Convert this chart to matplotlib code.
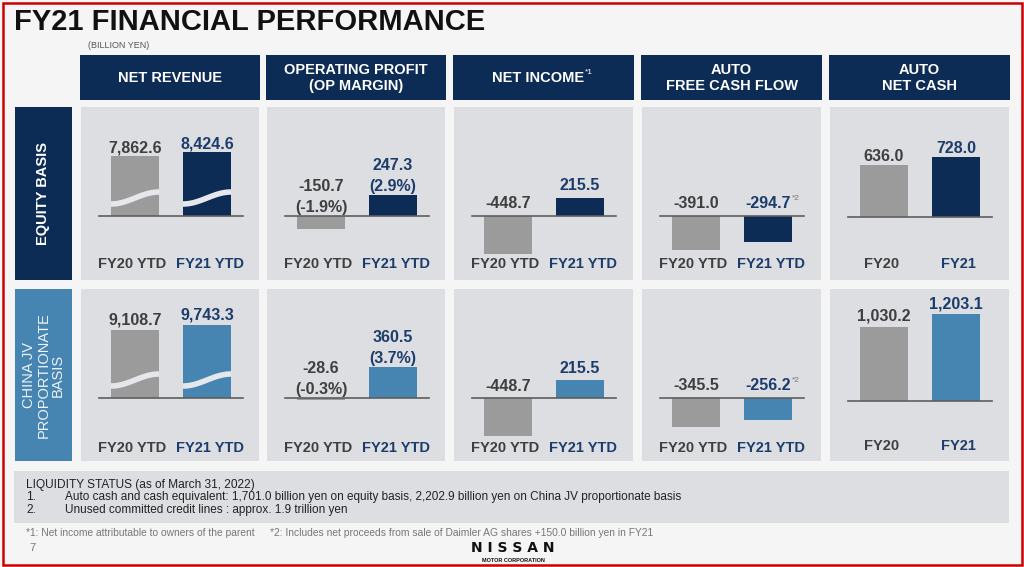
import matplotlib
matplotlib.use("Agg")
import matplotlib.pyplot as plt
from matplotlib.patches import Rectangle
import matplotlib.transforms as mtransforms
import numpy as np

plt.rcParams['font.family'] = ['Liberation Sans', 'DejaVu Sans']

W, H = 1024, 567

# ---------------- data ----------------
title = "FY21 FINANCIAL PERFORMANCE"
unit_note = "(BILLION YEN)"
headers = ["NET REVENUE", "OPERATING PROFIT\n(OP MARGIN)", "NET INCOME",
           "AUTO\nFREE CASH FLOW", "AUTO\nNET CASH"]
row_labels = ["EQUITY BASIS", "CHINA JV\nPROPORTIONATE\nBASIS"]
periods_ytd = ["FY20 YTD", "FY21 YTD"]
periods_fy = ["FY20", "FY21"]

equity_net_revenue = [7862.6, 8424.6]
equity_op_profit = [-150.7, 247.3]
equity_op_margin = [-1.9, 2.9]
equity_net_income = [-448.7, 215.5]
equity_fcf = [-391.0, -294.7]
equity_net_cash = [636.0, 728.0]

china_net_revenue = [9108.7, 9743.3]
china_op_profit = [-28.6, 360.5]
china_op_margin = [-0.3, 3.7]
china_net_income = [-448.7, 215.5]
china_fcf = [-345.5, -256.2]
china_net_cash = [1030.2, 1203.1]

liquidity_title = "LIQUIDITY STATUS (as of March 31, 2022)"
liquidity_items = ["Auto cash and cash equivalent: 1,701.0 billion yen on equity basis, 2,202.9 billion yen on China JV proportionate basis",
                   "Unused committed credit lines : approx. 1.9 trillion yen"]
footnote1 = "*1: Net income attributable to owners of the parent"
footnote2 = "*2: Includes net proceeds from sale of Daimler AG shares +150.0 billion yen in FY21"

# ---------------- style ----------------
PAGE = "#f5f5f5"
PANEL = "#dddee2"
BAND = "#e6e7ea"
NAVY = "#0c2b55"
BLUE = "#4684b2"
GRAY = "#9b9b9b"
TXT_GRAY = "#3f3f3f"
TXT_NAVY = "#1c3d6b"

cols = [(81, 259), (267, 445), (454, 633), (642, 821), (830, 1009)]
rows = [(107, 280), (289, 461)]

fig = plt.figure(figsize=(W / 100, H / 100), dpi=100)
fig.patch.set_facecolor(PAGE)

page = fig.add_axes([0, 0, 1, 1])
page.set_xlim(0, W)
page.set_ylim(H, 0)
page.axis("off")


def box(x0, y0, x1, y1, color, **kw):
    page.add_patch(Rectangle((x0, y0), x1 - x0, y1 - y0, facecolor=color,
                             edgecolor="none", **kw))


# title
page.text(14, 22, title, fontsize=21, fontweight="bold", color="#111111",
          ha="left", va="center")
page.text(88, 45, unit_note, fontsize=6.5, color="#555555", ha="left", va="center")

# headers
for (x0, x1), h in zip(cols, headers):
    box(x0 - 1, 55, x1 + 1, 100, NAVY)
    cx = (x0 + x1) / 2
    if h == "NET INCOME":
        page.text(cx - 5, 78, h, fontsize=10.5, fontweight="bold", color="white",
                  ha="center", va="center")
        page.text(cx + 41, 72, "*1", fontsize=6, color="white", ha="left", va="center")
    else:
        page.text(cx, 78, h, fontsize=10.5, fontweight="bold", color="white",
                  ha="center", va="center", linespacing=1.15)

# row labels
box(15, rows[0][0], 72, rows[0][1], NAVY)
page.text(43.5, sum(rows[0]) / 2, row_labels[0], rotation=90, fontsize=10.5,
          fontweight="bold", color="white", ha="center", va="center")
box(15, rows[1][0], 72, rows[1][1], BLUE)
page.text(43.5, sum(rows[1]) / 2, row_labels[1], rotation=90, fontsize=10.5,
          color="#eef3f8", ha="center", va="center", linespacing=1.05)


def panel(col, row, values, scale, base_px, periods, fy21_color, lab_off,
          margins=None, broken=False, note=None, xlab_px=None):
    x0, x1 = cols[col]
    y0, y1 = rows[row]
    ax = fig.add_axes([x0 / W, 1 - y1 / H, (x1 - x0) / W, (y1 - y0) / H])
    ax.set_facecolor(PANEL)
    for s in ax.spines.values():
        s.set_visible(False)
    ax.set_xticks([])
    ax.set_yticks([])
    ax.set_xlim(-54 / 72, (x1 - x0 - 54) / 72)
    ax.set_ylim(-(y1 - base_px) / scale, (base_px - y0) / scale)
    xs = np.arange(len(values))
    bw = 48 / 72
    ax.bar(xs, values, width=bw, color=[GRAY, fy21_color], zorder=2)
    ax.plot([-0.5, 1.5], [0, 0], color="#5e5e5e", lw=1.2, zorder=3)

    if broken:
        t = np.linspace(0, 1, 60)
        for i in xs:
            xx = i - bw / 2 + t * bw
            yy = (12 + 12 * (1 - np.cos(np.pi * t)) / 2) / scale
            ax.plot(xx, yy, color=BAND, lw=4.0, solid_capstyle="butt", zorder=4)

    lab_colors = [TXT_GRAY, TXT_NAVY]
    for i, v in enumerate(values):
        y = v if v > 0 else 0
        if margins is not None:
            ax.annotate(f"({margins[i]:.1f}%)", (i, y), xytext=(0, 4),
                        textcoords="offset pixels", ha="center", va="baseline",
                        fontsize=11.5, fontweight="bold", color=lab_colors[i])
            ax.annotate(f"{v:,.1f}", (i, y), xytext=(0, 25),
                        textcoords="offset pixels", ha="center", va="baseline",
                        fontsize=11.5, fontweight="bold", color=lab_colors[i])
        else:
            ax.annotate(f"{v:,.1f}", (i, y), xytext=(0, lab_off),
                        textcoords="offset pixels", ha="center", va="baseline",
                        fontsize=11.5, fontweight="bold", color=lab_colors[i])
            if note is not None and i == 1:
                ax.annotate(note, (i, y), xytext=(24, lab_off + 8),
                            textcoords="offset pixels", ha="left", va="baseline",
                            fontsize=6, color="#777777")
    trans = mtransforms.blended_transform_factory(ax.transData, ax.transAxes)
    ly = (y1 - xlab_px) / (y1 - y0)
    for i, p in enumerate(periods):
        ax.text(i + (-0.04 if i == 0 else 0.04), ly, p, transform=trans,
                ha="center", va="center", fontsize=10.5, fontweight="bold",
                color=lab_colors[i])
    return ax


# row 1: equity basis
panel(0, 0, equity_net_revenue, 0.00757, 216, periods_ytd, NAVY, 4, broken=True, xlab_px=264)
panel(1, 0, equity_op_profit, 0.0855, 216, periods_ytd, NAVY, 4, margins=equity_op_margin, xlab_px=264)
panel(2, 0, equity_net_income, 0.0855, 216, periods_ytd, NAVY, 8, xlab_px=264)
panel(3, 0, equity_fcf, 0.0875, 216, periods_ytd, NAVY, 8, note="*2", xlab_px=264)
panel(4, 0, equity_net_cash, 0.082, 217, periods_fy, NAVY, 4, xlab_px=264)

# row 2: China JV proportionate basis
panel(0, 1, china_net_revenue, 0.0075, 398, periods_ytd, BLUE, 5, broken=True, xlab_px=448)
panel(1, 1, china_op_profit, 0.085, 398, periods_ytd, BLUE, 4, margins=china_op_margin, xlab_px=448)
panel(2, 1, china_net_income, 0.085, 398, periods_ytd, BLUE, 7, xlab_px=448)
panel(3, 1, china_fcf, 0.085, 398, periods_ytd, BLUE, 8, note="*2", xlab_px=448)
panel(4, 1, china_net_cash, 0.072, 401, periods_fy, BLUE, 6, xlab_px=446)

# liquidity box
box(14, 471, 1009, 523, PANEL)
page.text(26, 485, liquidity_title, fontsize=8.6, color="#222222", ha="left", va="center")
for k, (item, yy) in enumerate(zip(liquidity_items, [497, 510])):
    page.text(26, yy, f"{k + 1}.", fontsize=8.6, color="#222222", ha="left", va="center")
    page.text(65, yy, item, fontsize=8.5, color="#222222", ha="left", va="center")

page.text(26, 533, footnote1, fontsize=7.4, color="#777777", ha="left", va="center")
page.text(270, 533, footnote2, fontsize=7.4, color="#777777", ha="left", va="center")

page.text(32, 548, "7", fontsize=8, color="#777777", ha="center", va="center")
page.text(513, 548, "N I S S A N", fontsize=10, fontweight="bold", color="#111111",
          ha="center", va="center", family="DejaVu Sans")
page.text(513, 560, "MOTOR CORPORATION", fontsize=4, fontweight="bold", color="#111111",
          ha="center", va="center")

# red frame
page.add_patch(Rectangle((2.5, 2.5), W - 5, H - 5, facecolor="none",
                         edgecolor="#cc0000", lw=1.8, zorder=10))

fig.savefig("out.png", dpi=100, facecolor=PAGE)
